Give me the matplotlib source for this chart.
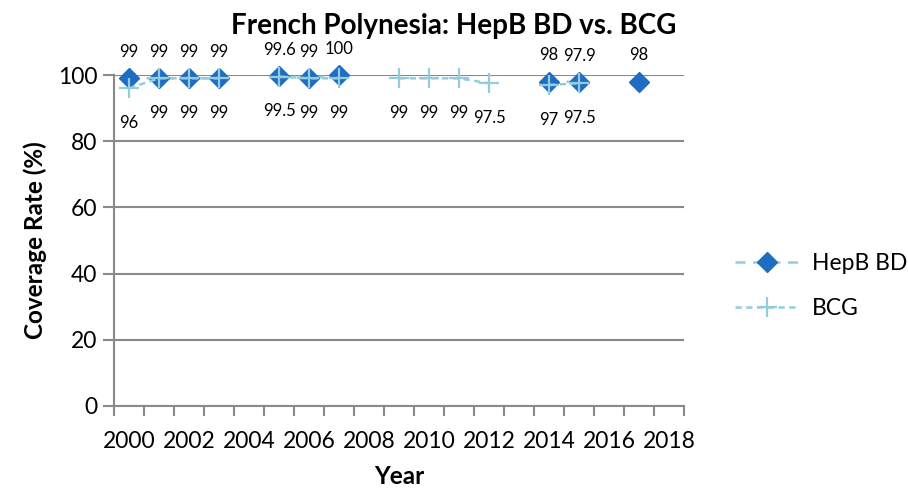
import numpy as np
import matplotlib
matplotlib.use("Agg")
import matplotlib.pyplot as plt
from matplotlib.ticker import FixedLocator

plt.rcParams["font.family"] = ["Lato", "DejaVu Sans"]

years = list(range(2000, 2019))
nan = np.nan
hepb_bd = [99, 99, 99, 99, nan, 99.6, 99, 100, nan, nan, nan, nan, nan, nan, 98, 97.9, nan, 98, nan]
bcg = [96, 99, 99, 99, nan, 99.5, 99, 99, nan, 99, 99, 99, 97.5, nan, 97, 97.5, nan, nan, nan]
year_labels = [str(y) for y in range(2000, 2019, 2)]

LINE = "#93CDDD"
DIAMOND = "#1F6DC2"
GRID = "#898989"

fig = plt.figure(figsize=(9.08, 4.88), dpi=100)
ax = fig.add_axes([114 / 908, 1 - 406 / 488, 570 / 908, 331 / 488])

ax.plot(years, hepb_bd, linestyle=(0, (4, 3)), color=LINE, linewidth=1.8,
        marker="D", markersize=10, markerfacecolor=DIAMOND, markeredgecolor=DIAMOND,
        label="HepB BD", clip_on=False, zorder=3)
ax.plot(years, bcg, linestyle=(0, (2.5, 1.8)), color=LINE, linewidth=1.8,
        marker="+", markersize=14, markeredgewidth=1.6, markeredgecolor=LINE,
        label="BCG", clip_on=False, zorder=4)

for x, v in zip(years, hepb_bd):
    if not np.isnan(v):
        ax.annotate(f"{v:g}", (x, v), xytext=(0, 19), textcoords="offset points",
                    ha="center", va="center", fontsize=12, annotation_clip=False)
for x, v in zip(years, bcg):
    if not np.isnan(v):
        ax.annotate(f"{v:g}", (x, v), xytext=(0, -25), textcoords="offset points",
                    ha="center", va="center", fontsize=12, annotation_clip=False)

ax.set_xlim(1999.5, 2018.5)
ax.set_ylim(0, 100)
ax.set_yticks(range(0, 101, 20))
ax.yaxis.grid(True, color=GRID, linewidth=1.5)
ax.set_axisbelow(True)

ax.xaxis.set_major_locator(FixedLocator(range(2000, 2019, 2)))
ax.set_xticklabels(year_labels)
ax.xaxis.set_minor_locator(FixedLocator(np.arange(1999.5, 2019, 1)))
ax.tick_params(axis="x", which="major", length=0, labelsize=16.5, pad=18)
ax.tick_params(axis="x", which="minor", length=7, width=1.5, color=GRID, direction="out")
ax.tick_params(axis="y", length=8, width=1.5, color=GRID, labelsize=16.5, pad=4)

for s in ("top", "right"):
    ax.spines[s].set_visible(False)
for s in ("left", "bottom"):
    ax.spines[s].set_color(GRID)
    ax.spines[s].set_linewidth(1.5)

ax.set_ylabel("Coverage Rate (%)", fontsize=17.5, fontweight="bold", labelpad=8)
ax.set_xlabel("Year", fontsize=17.5, fontweight="bold", labelpad=9)
fig.text(0.5, 1 - 26 / 488, "French Polynesia: HepB BD vs. BCG", ha="center", va="center",
         fontsize=20, fontweight="bold")

ax.legend(loc="center left", bbox_to_anchor=(735 / 908, 1 - 286 / 488),
          bbox_transform=fig.transFigure, frameon=False, fontsize=16.5,
          borderpad=0, borderaxespad=0, handlelength=2.75, handletextpad=0.6,
          labelspacing=1.05)

fig.savefig("out.png", dpi=100)
